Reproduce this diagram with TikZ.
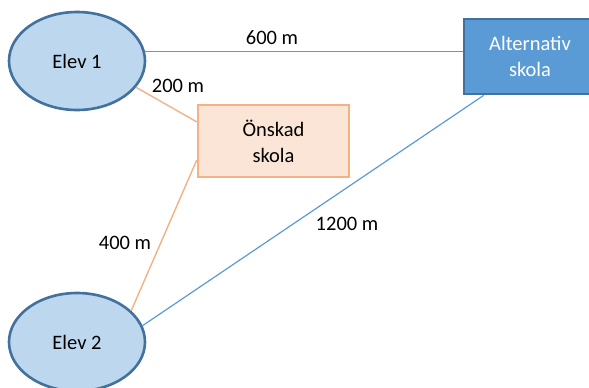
\documentclass[tikz,border=0pt]{standalone}
\usepackage{fontspec}
\setmainfont{Carlito}
\usetikzlibrary{shapes.geometric}
\definecolor{elevfill}{HTML}{BDD7EE}
\definecolor{darkblue}{HTML}{41719C}
\definecolor{midblue}{HTML}{5B9BD5}
\definecolor{peach}{HTML}{FBE5D6}
\definecolor{orange}{HTML}{F4B183}

\begin{document}
\begin{tikzpicture}[x=1pt,y=-1pt,font=\fontsize{20.5}{26}\selectfont,
  elev/.style={ellipse,draw=darkblue,line width=2.6pt,fill=elevfill,
    minimum width=136pt,minimum height=98pt,inner sep=0pt},
  altbox/.style={rectangle,draw=darkblue,line width=2.6pt,fill=midblue,
    text=white,align=center,minimum width=132pt,minimum height=75pt},
  wishbox/.style={rectangle,draw=orange,line width=2.6pt,fill=peach,
    align=center,minimum width=151pt,minimum height=72pt},
  blueline/.style={midblue,line width=1.2pt},
  orangeline/.style={orange,line width=1.4pt}]
\useasboundingbox (0,0) rectangle (589,388);
\clip (0,0) rectangle (589,388);

\node[elev] (elev1) at (77,61) {Elev 1};
\node[elev] (elev2) at (77,342) {Elev 2};
\node[altbox] (alt) at (530,56.5) {Alternativ\\skola};
\node[wishbox] (wish) at (273.5,141) {Önskad\\skola};

% avstand
\draw[blueline] (elev1.8.5) -- (elev1.8.5 -| alt.west);
\draw[orangeline] (elev1.-24) -- (wish.166);
\draw[orangeline] (elev2.30) -- (wish.194);
\draw[blueline] (elev2.14.7) -- (alt.220);

\node (d600) at (272,38) {600 m};
\node (d200) at (178,86) {200 m};
\node (d400) at (125,243) {400 m};
\node (d1200) at (347,224) {1200 m};
\end{tikzpicture}
\end{document}
